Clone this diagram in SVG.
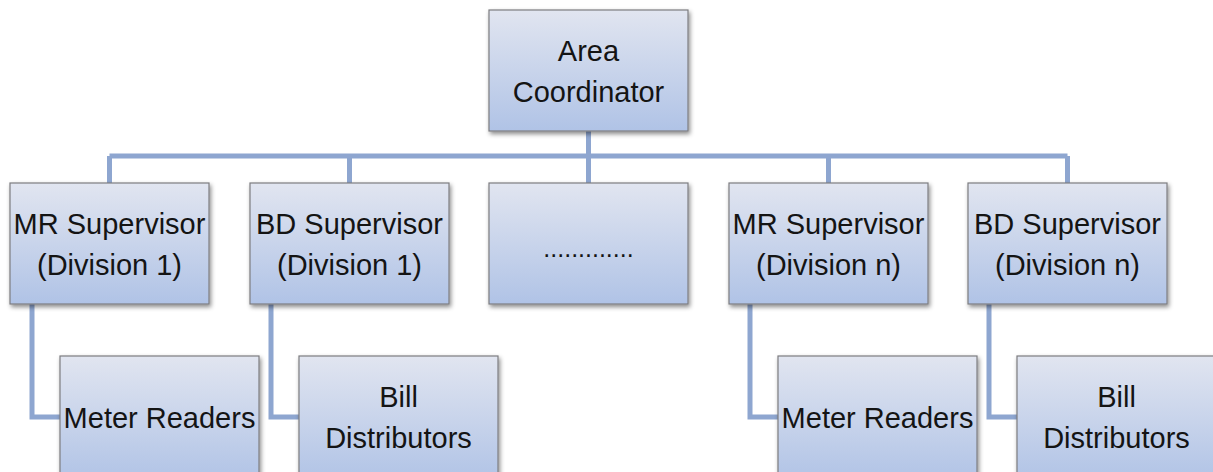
<svg xmlns="http://www.w3.org/2000/svg" width="1213" height="472" viewBox="0 0 1213 472">
  <style>
    .box { fill: url(#g); stroke: #7d7d80; stroke-width: 1.2; filter: url(#sh); }
    .t { font-family: "Liberation Sans", Arial, sans-serif; font-size: 29px; fill: #141414; text-anchor: middle; }
    .c { fill: none; stroke: #8ea6d0; stroke-width: 5; stroke-linejoin: miter; }
  </style>
  <defs>
    <linearGradient id="g" x1="0" y1="0" x2="0" y2="1">
      <stop offset="0" stop-color="#e1e5f0"/>
      <stop offset="1" stop-color="#b0c3e6"/>
    </linearGradient>
    <filter id="sh" x="-10%" y="-10%" width="125%" height="130%">
      <feDropShadow dx="1.5" dy="2.5" stdDeviation="2" flood-color="#000" flood-opacity="0.45"/>
    </filter>
  </defs>
  <rect width="1213" height="472" fill="#ffffff"/>

  <g id="connectors">
    <path class="c" d="M588.5 131 V156"/>
    <path class="c" d="M109.5 156 H1067.5"/>
    <path class="c" d="M109.5 156 V183 M349.5 156 V183 M588.5 156 V183 M828.5 156 V183 M1067.5 156 V183"/>
    <path class="c" d="M32 304 V417 H60"/>
    <path class="c" d="M271 304 V417 H299"/>
    <path class="c" d="M750 304 V417 H778"/>
    <path class="c" d="M989 304 V417 H1017"/>
  </g>

  <g id="area-coordinator">
    <rect class="box" x="489" y="10" width="199" height="121"/>
    <text class="t" x="588.5" y="61">Area</text>
    <text class="t" x="588.5" y="102">Coordinator</text>
  </g>

  <g id="mr-supervisor-1">
    <rect class="box" x="10" y="183" width="199" height="121"/>
    <text class="t" x="109.5" y="234">MR Supervisor</text>
    <text class="t" x="109.5" y="275">(Division 1)</text>
  </g>
  <g id="bd-supervisor-1">
    <rect class="box" x="250" y="183" width="199" height="121"/>
    <text class="t" x="349.5" y="234">BD Supervisor</text>
    <text class="t" x="349.5" y="275">(Division 1)</text>
  </g>
  <g id="ellipsis">
    <rect class="box" x="489" y="183" width="199" height="121"/>
    <text class="t" x="588.5" y="257" style="font-size:25px">.............</text>
  </g>
  <g id="mr-supervisor-n">
    <rect class="box" x="729" y="183" width="199" height="121"/>
    <text class="t" x="828.5" y="234">MR Supervisor</text>
    <text class="t" x="828.5" y="275">(Division n)</text>
  </g>
  <g id="bd-supervisor-n">
    <rect class="box" x="968" y="183" width="199" height="121"/>
    <text class="t" x="1067.5" y="234">BD Supervisor</text>
    <text class="t" x="1067.5" y="275">(Division n)</text>
  </g>

  <g id="meter-readers-1">
    <rect class="box" x="60" y="356" width="199" height="126"/>
    <text class="t" x="159.5" y="428">Meter Readers</text>
  </g>
  <g id="bill-distributors-1">
    <rect class="box" x="299" y="356" width="199" height="126"/>
    <text class="t" x="398.5" y="407">Bill</text>
    <text class="t" x="398.5" y="448">Distributors</text>
  </g>
  <g id="meter-readers-n">
    <rect class="box" x="778" y="356" width="199" height="126"/>
    <text class="t" x="877.5" y="428">Meter Readers</text>
  </g>
  <g id="bill-distributors-n">
    <rect class="box" x="1017" y="356" width="199" height="126"/>
    <text class="t" x="1116.5" y="407">Bill</text>
    <text class="t" x="1116.5" y="448">Distributors</text>
  </g>
</svg>
